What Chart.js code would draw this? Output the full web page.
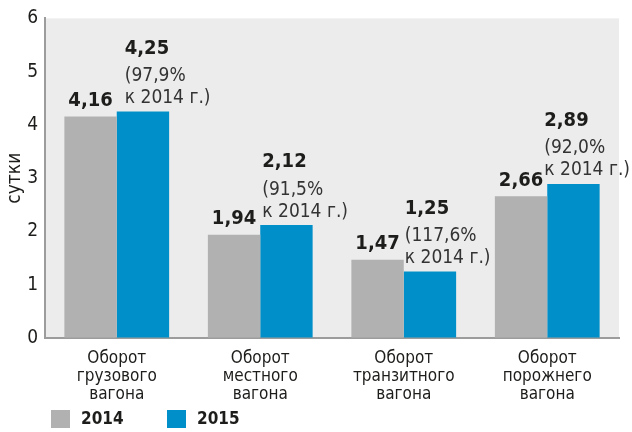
<!DOCTYPE html>
<html>
<head>
<meta charset="utf-8">
<script src="https://cdn.jsdelivr.net/npm/chart.js@4/dist/chart.umd.min.js"></script>
<style>
  body { margin: 0; background: #fff; }
</style>
</head>
<body>
<canvas id="chart" width="632" height="432"></canvas>
<script>
const categories = [
  ['Оборот', 'грузового', 'вагона'],
  ['Оборот', 'местного', 'вагона'],
  ['Оборот', 'транзитного', 'вагона'],
  ['Оборот', 'порожнего', 'вагона']
];
const seriesNames = ['2014', '2015'];
const values2014 = [4.16, 1.94, 1.47, 2.66];
const values2015 = [4.25, 2.12, 1.25, 2.89];
const changeVs2014 = ['97,9%', '91,5%', '117,6%', '92,0%'];
const yTicks = [0, 1, 2, 3, 4, 5, 6];
const yTitle = 'сутки';

const FONT = "'DejaVu Sans Condensed', 'DejaVu Sans', sans-serif";
const TEXT = '#1d1d1b';
const GRAY = '#b0b1b0';
const BLUE = '#008fc8';
// small horizontal shifts of the 2015 labels, as placed in the original
const labelNudge = [8, 2, 1, -3];

const fmt = v => v.toFixed(2).replace('.', ',');

// grey plot background
const plotBg = {
  id: 'plotBg',
  beforeDraw(chart) {
    const { ctx, chartArea: a } = chart;
    ctx.save();
    ctx.fillStyle = '#ececec';
    ctx.fillRect(a.left, a.top, a.right - a.left, a.bottom - a.top);
    ctx.restore();
  }
};

// value labels above bars
const valueLabels = {
  id: 'valueLabels',
  afterDatasetsDraw(chart) {
    const ctx = chart.ctx;
    ctx.save();
    ctx.fillStyle = TEXT;

    // 2014: bold value centred over the bar
    chart.getDatasetMeta(0).data.forEach((bar, i) => {
      ctx.font = 'bold 20px ' + FONT;
      ctx.textAlign = 'center';
      ctx.textBaseline = 'bottom';
      ctx.fillText(fmt(values2014[i]), bar.x, bar.y - 6);
    });

    // 2015: bold value + change vs 2014, left aligned on the bar
    chart.getDatasetMeta(1).data.forEach((bar, i) => {
      const x = bar.x - bar.width / 2 + labelNudge[i];
      ctx.textAlign = 'left';
      ctx.textBaseline = 'bottom';
      ctx.font = '19px ' + FONT;
      ctx.fillStyle = '#333';
      ctx.fillText('к 2014 г.)', x, bar.y - 4);
      ctx.fillText('(' + changeVs2014[i], x, bar.y - 26);
      ctx.font = 'bold 20px ' + FONT;
      ctx.fillStyle = TEXT;
      ctx.fillText(fmt(values2015[i]), x, bar.y - 53);
    });
    ctx.restore();
  }
};

// legend under the axis
const bottomLegend = {
  id: 'bottomLegend',
  afterDraw(chart) {
    const ctx = chart.ctx;
    const starts = [51, 167];
    ctx.save();
    chart.data.datasets.forEach((ds, i) => {
      ctx.fillStyle = ds.backgroundColor;
      ctx.fillRect(starts[i], 410, 19, 18);
      ctx.fillStyle = TEXT;
      ctx.font = 'bold 17px ' + FONT;
      ctx.textAlign = 'left';
      ctx.textBaseline = 'middle';
      ctx.fillText(ds.label, starts[i] + 30, 420);
    });
    ctx.restore();
  }
};

new Chart(document.getElementById('chart'), {
  type: 'bar',
  data: {
    labels: categories,
    datasets: [
      { label: seriesNames[0], data: values2014, backgroundColor: GRAY },
      { label: seriesNames[1], data: values2015, backgroundColor: BLUE }
    ]
  },
  options: {
    responsive: false,
    animation: false,
    layout: { padding: { top: 17, right: 13, left: 0, bottom: 0 } },
    datasets: {
      bar: { categoryPercentage: 0.73, barPercentage: 1.0 }
    },
    plugins: {
      legend: { display: false },
      tooltip: { enabled: false }
    },
    scales: {
      x: {
        grid: { display: true, drawOnChartArea: false, drawTicks: false },
        border: { color: '#9c9c9c', width: 2 },
        ticks: {
          color: TEXT,
          font: { family: FONT, size: 17, lineHeight: 1.06 },
          padding: 12,
          maxRotation: 0
        },
        afterFit(scale) { scale.height = 94; }
      },
      y: {
        min: 0,
        max: 6,
        grid: { display: true, drawOnChartArea: false, drawTicks: false },
        border: { color: '#9c9c9c', width: 2 },
        afterBuildTicks(scale) { scale.ticks = yTicks.map(v => ({ value: v })); },
        ticks: {
          color: TEXT,
          font: { family: FONT, size: 19 },
          padding: 7
        },
        title: {
          display: true,
          text: yTitle,
          color: TEXT,
          font: { family: FONT, size: 19 },
          padding: { top: 4, bottom: 0 }
        },
        afterFit(scale) { scale.width = 45; }
      }
    }
  },
  plugins: [plotBg, valueLabels, bottomLegend]
});
</script>
</body>
</html>
